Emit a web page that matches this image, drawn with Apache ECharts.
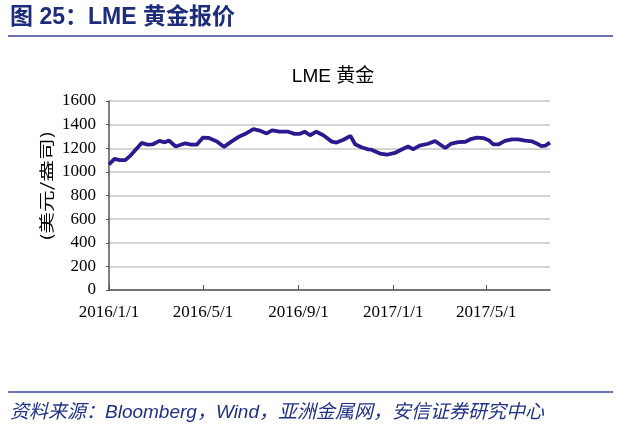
<!DOCTYPE html>
<html><head><meta charset="utf-8">
<script src="https://cdn.jsdelivr.net/npm/echarts@6/dist/echarts.min.js"></script>
<style>html,body{margin:0;padding:0;background:#fff}#c{width:621px;height:438px}</style>
</head><body><div id="c"></div>
<script>
var dates = ["2016-01-01","2016-01-08","2016-01-15","2016-01-22","2016-01-29","2016-02-12","2016-02-20","2016-02-26","2016-03-06","2016-03-13","2016-03-18","2016-03-27","2016-04-08","2016-04-16","2016-04-23","2016-05-01","2016-05-08","2016-05-19","2016-05-28","2016-06-07","2016-06-17","2016-06-24","2016-07-05","2016-07-07","2016-07-13","2016-07-22","2016-07-29","2016-08-06","2016-08-19","2016-08-27","2016-09-03","2016-09-09","2016-09-16","2016-09-24","2016-10-03","2016-10-14","2016-10-20","2016-10-29","2016-11-07","2016-11-13","2016-11-21","2016-11-30","2016-12-04","2016-12-15","2016-12-24","2017-01-03","2017-01-12","2017-01-20","2017-01-27","2017-02-04","2017-02-15","2017-02-24","2017-03-02","2017-03-09","2017-03-17","2017-03-26","2017-04-04","2017-04-12","2017-04-19","2017-04-27","2017-05-04","2017-05-10","2017-05-17","2017-05-25","2017-06-03","2017-06-11","2017-06-20","2017-06-29","2017-07-05","2017-07-11","2017-07-16","2017-07-22"];
var prices = [1062,1110,1100,1100,1140,1245,1230,1232,1262,1250,1265,1215,1242,1230,1230,1290,1288,1258,1212,1258,1300,1320,1362,1365,1350,1325,1352,1342,1340,1322,1322,1340,1310,1340,1310,1256,1248,1272,1305,1234,1208,1190,1188,1155,1145,1160,1190,1215,1192,1222,1238,1262,1234,1202,1240,1252,1255,1280,1290,1286,1268,1232,1234,1262,1275,1275,1265,1258,1240,1218,1222,1248];
var tickDates = ["2016-01-01","2016-05-01","2016-09-01","2017-01-01","2017-05-01"];
var yTicks = [0,200,400,600,800,1000,1200,1400,1600];
var axisStart = "2016-01-01", axisEnd = "2017-07-22";

function ts(s){var p=s.split('-');return new Date(+p[0],+p[1]-1,+p[2]).getTime();}
var data = dates.map(function(d,i){return [ts(d),prices[i]];});
var tickTs = tickDates.map(ts);

var chart = echarts.init(document.getElementById('c'));
var serif = '"Liberation Serif","Times New Roman",serif';
chart.setOption({
  animation:false,
  backgroundColor:'#fff',
  title:[
    {text:'LME 黄金',left:328,textAlign:'center',top:62,textStyle:{fontFamily:'Arial,"Liberation Sans","Noto Sans CJK SC"',fontSize:19,fontWeight:'normal',color:'#000'}}
  ],
  graphic:[
    {type:'text',left:10,top:6,style:{text:'图 25：LME 黄金报价',fontFamily:'"Liberation Sans","Noto Sans CJK SC"',fontWeight:'bold',fontSize:23,fill:'#1e2c7c'}},
    {type:'line',shape:{x1:8,y1:36,x2:613,y2:36},style:{stroke:'#3a4597',lineWidth:1.5}},
    {type:'line',shape:{x1:8,y1:392,x2:613,y2:392},style:{stroke:'#3a4597',lineWidth:1.5}},
    {type:'text',left:10,top:403,style:{text:'资料来源：Bloomberg，Wind，亚洲金属网，安信证券研究中心',fontFamily:'"Liberation Sans","Noto Sans CJK SC"',fontStyle:'italic',fontSize:19,fill:'#1f3185'}},
    {type:'text',x:46,y:186,rotation:Math.PI/2,scaleX:1.45,style:{text:'(美元/盎司)',fontFamily:'"Noto Sans CJK SC"',fontSize:15,fill:'#000',align:'center',verticalAlign:'middle'}}
  ],
  grid:{left:109,right:71,top:101,bottom:148,containLabel:false},
  xAxis:{
    type:'value',min:ts(axisStart),max:ts(axisEnd),
    axisLine:{lineStyle:{color:'#555',width:1.5}},
    axisTick:{show:true,inside:true,length:5,customValues:tickTs,lineStyle:{color:'#555'}},
    axisLabel:{customValues:tickTs,margin:14,fontFamily:serif,fontSize:17,color:'#000',
      formatter:function(v){var d=new Date(v);return d.getFullYear()+'/'+(d.getMonth()+1)+'/'+d.getDate();}},
    splitLine:{show:false}
  },
  yAxis:{
    type:'value',min:0,max:1600,interval:200,
    axisLine:{show:true,lineStyle:{color:'#555',width:1.5}},
    axisTick:{show:true,length:3,lineStyle:{color:'#555'}},
    axisLabel:{margin:13,fontFamily:serif,fontSize:17,color:'#000',formatter:function(v){return String(v);}},
    splitLine:{lineStyle:{color:'#c6c6c6',width:1.5}}
  },
  series:[{type:'line',data:data,showSymbol:false,smooth:false,
    lineStyle:{color:'#2b1a8f',width:3.8},itemStyle:{color:'#2b1a8f'}}]
});
</script></body></html>
